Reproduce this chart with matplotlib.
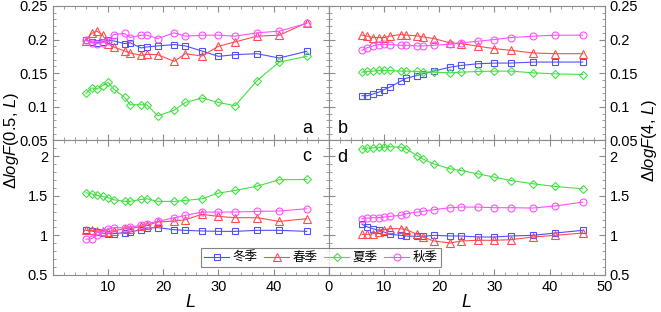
import matplotlib
matplotlib.use('Agg')
import matplotlib.pyplot as plt
from matplotlib.ticker import MultipleLocator, FormatStrFormatter, FixedLocator

L = [6, 7, 8, 9, 10, 11, 13, 14, 16, 17, 19, 22, 24, 27, 30, 33, 37, 41, 46]

# panel a: q = 0.5, top
a_winter = [0.199, 0.1965, 0.195, 0.1965, 0.199, 0.198, 0.194, 0.195, 0.1875, 0.189,
            0.1905, 0.1925, 0.1905, 0.183, 0.175, 0.1775, 0.179, 0.1725, 0.1825]
a_spring = [0.198, 0.209, 0.2125, 0.2065, 0.194, 0.189, 0.183, 0.18, 0.1765, 0.178,
            0.1775, 0.1675, 0.179, 0.1755, 0.19, 0.1965, 0.205, 0.2065, 0.225]
a_summer = [0.12, 0.128, 0.1265, 0.1315, 0.1365, 0.1265, 0.114, 0.103, 0.103, 0.103,
            0.0865, 0.095, 0.1065, 0.113, 0.1065, 0.1015, 0.139, 0.1665, 0.175]
a_autumn = [0.199, 0.195, 0.194, 0.1955, 0.1975, 0.2075, 0.209, 0.203, 0.2065, 0.2065,
            0.2015, 0.21, 0.205, 0.2065, 0.2065, 0.205, 0.21, 0.2125, 0.224]

# panel b: q = 4, top
b_winter = [0.1165, 0.1165, 0.119, 0.1215, 0.1255, 0.129, 0.138, 0.1425, 0.1465, 0.149,
            0.153, 0.159, 0.1615, 0.164, 0.165, 0.165, 0.1665, 0.1665, 0.1665]
b_spring = [0.2065, 0.205, 0.203, 0.203, 0.203, 0.205, 0.2075, 0.2065, 0.2055, 0.204,
            0.2015, 0.195, 0.194, 0.19, 0.1865, 0.184, 0.18, 0.179, 0.179]
b_summer = [0.1515, 0.1525, 0.153, 0.154, 0.154, 0.154, 0.153, 0.153, 0.1525, 0.1515,
            0.1515, 0.1505, 0.1515, 0.1525, 0.153, 0.153, 0.1505, 0.149, 0.148]
b_autumn = [0.184, 0.188, 0.1905, 0.1925, 0.193, 0.1925, 0.1915, 0.1915, 0.1905, 0.1905,
            0.1915, 0.193, 0.195, 0.1975, 0.2, 0.203, 0.205, 0.2065, 0.2065]

# panel c: q = 0.5, bottom
c_winter = [1.063, 1.055, 1.042, 1.029, 1.021, 1.021, 1.034, 1.042, 1.071, 1.092,
            1.097, 1.071, 1.063, 1.055, 1.05, 1.05, 1.063, 1.063, 1.05]
c_spring = [1.063, 1.063, 1.055, 1.055, 1.042, 1.055, 1.084, 1.084, 1.113, 1.126,
            1.168, 1.181, 1.197, 1.265, 1.239, 1.223, 1.223, 1.176, 1.21]
c_summer = [1.538, 1.525, 1.504, 1.492, 1.475, 1.45, 1.429, 1.429, 1.454, 1.462,
            1.429, 1.429, 1.441, 1.462, 1.534, 1.567, 1.622, 1.702, 1.706]
c_autumn = [0.95, 0.958, 1.0, 1.042, 1.084, 1.097, 1.097, 1.105, 1.126, 1.147,
            1.176, 1.223, 1.252, 1.294, 1.294, 1.294, 1.303, 1.307, 1.336]

# panel d: q = 4, bottom
d_winter = [1.139, 1.105, 1.084, 1.063, 1.042, 1.013, 1.0, 0.992, 0.987, 0.987,
            1.0, 0.992, 0.992, 0.979, 0.979, 0.992, 1.0, 1.029, 1.063]
d_spring = [1.013, 1.013, 1.021, 1.042, 1.071, 1.084, 1.084, 1.071, 1.013, 0.979,
            0.929, 0.903, 0.929, 0.937, 0.937, 0.945, 0.979, 1.0, 1.029]
d_summer = [2.092, 2.105, 2.105, 2.113, 2.113, 2.122, 2.113, 2.092, 2.008, 1.966,
            1.903, 1.84, 1.819, 1.777, 1.735, 1.693, 1.651, 1.618, 1.588]
d_autumn = [1.21, 1.218, 1.223, 1.223, 1.231, 1.239, 1.252, 1.273, 1.294, 1.303,
            1.324, 1.349, 1.357, 1.357, 1.349, 1.349, 1.345, 1.37, 1.42]

seasons = ["冬季", "春季", "夏季", "秋季"]
colors = ["#5050ff", "#ff4d4d", "#44e044", "#ff50ff"]
markers = ["s", "^", "D", "o"]
msizes = [4.2, 5.5, 4.2, 5]

plt.rcParams['font.family'] = ['Liberation Sans', 'Noto Sans CJK SC', 'DejaVu Sans']
plt.rcParams['mathtext.fontset'] = 'custom'
plt.rcParams['mathtext.rm'] = 'Liberation Sans'
plt.rcParams['mathtext.it'] = 'Liberation Sans:italic'
plt.rcParams['font.size'] = 10.5

fig, axes = plt.subplots(2, 2, figsize=(6.61, 3.12), dpi=100)
fig.subplots_adjust(left=0.080, right=0.915, top=0.981, bottom=0.119, hspace=0, wspace=0)

panels = [
    (axes[0, 0], [a_winter, a_spring, a_summer, a_autumn], "a"),
    (axes[0, 1], [b_winter, b_spring, b_summer, b_autumn], "b"),
    (axes[1, 0], [c_winter, c_spring, c_summer, c_autumn], "c"),
    (axes[1, 1], [d_winter, d_spring, d_summer, d_autumn], "d"),
]

frame = "#8c8c8c"
handles = []
for ax, series, letter in panels:
    hs = []
    for ys, col, mk, ms, name in zip(series, colors, markers, msizes, seasons):
        h, = ax.plot(L, ys, color=col, marker=mk, markersize=ms, markerfacecolor='none',
                     markeredgecolor=col, linewidth=0.8, markeredgewidth=0.8, label=name)
        hs.append(h)
    handles = hs
    ax.set_xlim(0, 50)
    ax.xaxis.set_major_locator(MultipleLocator(10))
    ax.xaxis.set_minor_locator(MultipleLocator(2))
    for s in ax.spines.values():
        s.set_color(frame)
    ax.tick_params(which='both', direction='in', top=True, right=True, left=True, bottom=True,
                   color=frame, labelsize=10.5)
    ax.tick_params(which='major', length=4)
    ax.tick_params(which='minor', length=2)

for ax in axes[0]:
    ax.set_ylim(0.05, 0.25)
    ax.yaxis.set_major_locator(MultipleLocator(0.05))
    ax.yaxis.set_minor_locator(MultipleLocator(0.01))
    ax.yaxis.set_major_formatter(FormatStrFormatter('%g'))
    ax.tick_params(labelbottom=False)

for ax in axes[1]:
    ax.set_ylim(0.5, 2.2)
    ax.yaxis.set_major_locator(FixedLocator([0.5, 1, 1.5, 2]))
    ax.yaxis.set_minor_locator(MultipleLocator(0.1))
    ax.yaxis.set_major_formatter(FormatStrFormatter('%g'))
    ax.set_xlabel(r'$\mathit{L}$', fontsize=13, labelpad=0)

for ax in axes[:, 1]:
    ax.tick_params(labelleft=False, labelright=True)

axes[1, 0].set_xticks([0, 10, 20, 30, 40, 50], ['', '10', '20', '30', '40', ''])

axes[0, 0].text(0.92, 0.09, "a", transform=axes[0, 0].transAxes, fontsize=13, ha='center', va='center')
axes[0, 1].text(0.05, 0.09, "b", transform=axes[0, 1].transAxes, fontsize=13, ha='center', va='center')
axes[1, 0].text(0.92, 0.88, "c", transform=axes[1, 0].transAxes, fontsize=13, ha='center', va='center')
axes[1, 1].text(0.05, 0.87, "d", transform=axes[1, 1].transAxes, fontsize=13, ha='center', va='center')

fig.text(0.018, 0.55, r'$\Delta\mathit{logF}$(0.5, $\mathit{L}$)', rotation=90, ha='center', va='center', fontsize=12)
fig.text(0.983, 0.55, r'$\Delta\mathit{logF}$(4, $\mathit{L}$)', rotation=90, ha='center', va='center', fontsize=12)

leg = fig.legend(handles=handles, labels=seasons, loc='center', bbox_to_anchor=(0.4856, 0.1747),
                 ncol=4, frameon=True, fancybox=False, handlelength=2.0,
                 handletextpad=0.3, columnspacing=0.5, borderpad=0.25, borderaxespad=0,
                 prop={'family': ['Noto Sans CJK SC'], 'size': 9})
leg.get_frame().set_edgecolor('#666666')
leg.get_frame().set_linewidth(0.8)

fig.savefig("out.png", dpi=100)
